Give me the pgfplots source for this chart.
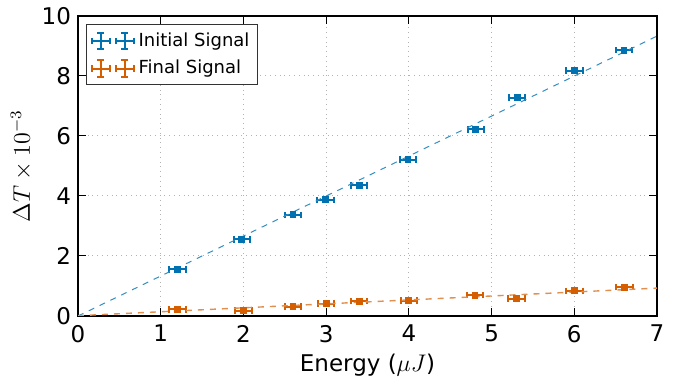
\documentclass[border=0pt]{standalone}
\usepackage{fontspec}
\setmainfont{DejaVu Sans}
\usepackage{pgfplots}
\pgfplotsset{compat=1.18}
\usepackage{pgfplotstable}
\definecolor{cblue}{HTML}{0072B2}
\definecolor{corange}{HTML}{D55E00}
\pgfplotstableread{
x y ex ey
1.20 1.55 0.10 0.07
1.98 2.55 0.10 0.07
2.60 3.37 0.10 0.07
2.99 3.87 0.10 0.07
3.40 4.35 0.10 0.07
3.99 5.21 0.10 0.07
4.81 6.22 0.10 0.07
5.31 7.28 0.10 0.07
6.00 8.18 0.10 0.07
6.60 8.86 0.10 0.07
}\initial
\pgfplotstableread{
x y ex ey
1.20 0.22 0.10 0.07
2.00 0.18 0.10 0.07
2.60 0.31 0.10 0.07
3.00 0.41 0.10 0.07
3.40 0.49 0.10 0.07
4.00 0.51 0.10 0.07
4.80 0.69 0.10 0.07
5.30 0.58 0.10 0.07
6.00 0.84 0.10 0.07
6.61 0.96 0.10 0.07
}\final
\pgfplotsset{
  ebleg/.style={legend image code/.code={
    \draw[##1,mark=none,line width=1pt] (0pt,0pt) -- (9pt,0pt);
    \draw[##1,mark=none,line width=1pt] (0pt,-1.6pt) -- (0pt,1.6pt);
    \draw[##1,mark=none,line width=1pt] (9pt,-1.6pt) -- (9pt,1.6pt);
    \draw[##1,mark=none,line width=1pt] (4.5pt,-4.2pt) -- (4.5pt,4.2pt);
    \draw[##1,mark=none,line width=1pt] (2.9pt,-4.2pt) -- (6.1pt,-4.2pt);
    \draw[##1,mark=none,line width=1pt] (2.9pt,4.2pt) -- (6.1pt,4.2pt);
    \draw[##1,mark=none,line width=1pt] (12pt,0pt) -- (21pt,0pt);
    \draw[##1,mark=none,line width=1pt] (12pt,-1.6pt) -- (12pt,1.6pt);
    \draw[##1,mark=none,line width=1pt] (21pt,-1.6pt) -- (21pt,1.6pt);
    \draw[##1,mark=none,line width=1pt] (16.5pt,-4.2pt) -- (16.5pt,4.2pt);
    \draw[##1,mark=none,line width=1pt] (14.9pt,-4.2pt) -- (18.1pt,-4.2pt);
    \draw[##1,mark=none,line width=1pt] (14.9pt,4.2pt) -- (18.1pt,4.2pt);
  }},
}
\begin{document}
\begin{tikzpicture}
\begin{axis}[
  scale only axis,
  width=289.5pt, height=150pt,
  xmin=0, xmax=7, ymin=0, ymax=10,
  xtick={0,1,...,7}, ytick={0,2,...,10},
  tick align=inside,
  tick style={black, line width=0.5pt},
  major tick length=4pt,
  axis line style={line width=0.7pt},
  grid=major,
  major grid style={gray!60, dotted, line width=0.5pt},
  ticklabel style={font=\fontsize{11.5}{13}\selectfont},
  xticklabel style={yshift=-1pt},
  /pgf/number format/assume math mode=true,
  xlabel={Energy ($\mu J$)},
  ylabel={$\Delta T \times 10^{-3}$},
  label style={font=\fontsize{11.5}{13}\selectfont},
  ylabel style={yshift=-2pt},
  xlabel style={yshift=1pt},
  legend style={at={(0.014,0.973)}, anchor=north west, draw=black!80, line width=0.5pt,
     font=\fontsize{9}{11}\selectfont, row sep=1.5pt, inner sep=2pt},
  legend cell align=left,
]
\addplot[cblue, ebleg, only marks, mark=square*, mark size=1.2pt, line width=1pt,
  error bars/.cd, x dir=both, x explicit, y dir=both, y explicit,
  error bar style={draw=cblue, solid, line width=1pt},
  error mark options={draw=cblue, solid, line width=1pt, mark size=1.6pt, rotate=90}]
  table[x=x, y=y, x error=ex, y error=ey]{\initial};
\addlegendentry{Initial Signal}
\addplot[corange, ebleg, only marks, mark=square*, mark size=1.2pt, line width=1pt,
  error bars/.cd, x dir=both, x explicit, y dir=both, y explicit,
  error bar style={draw=corange, solid, line width=1pt},
  error mark options={draw=corange, solid, line width=1pt, mark size=1.6pt, rotate=90}]
  table[x=x, y=y, x error=ex, y error=ey]{\final};
\addlegendentry{Final Signal}
\addplot[cblue!80!white, dashed, line width=0.5pt, forget plot] coordinates {(0,0) (7,9.33)};
\addplot[corange!70!white, dashed, line width=0.7pt, forget plot] coordinates {(0,0.01) (7,0.93)};
\end{axis}
\path (-39pt,-30pt) rectangle (305.5pt,158pt);
\end{tikzpicture}
\end{document}
